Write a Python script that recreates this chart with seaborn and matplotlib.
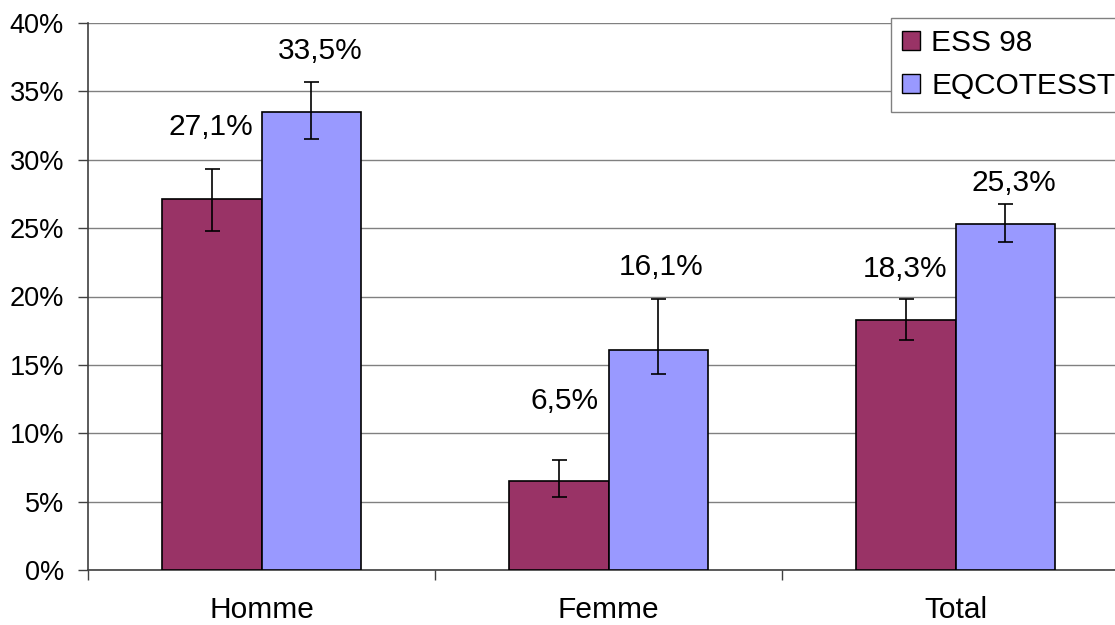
import matplotlib
matplotlib.use("Agg")
import matplotlib.pyplot as plt
import seaborn as sns
import pandas as pd
import numpy as np
from matplotlib.patches import Patch

categories = ["Homme", "Femme", "Total"]
series = ["ESS 98", "EQCOTESST"]
ess_values = [27.1, 6.5, 18.3]
eqc_values = [33.5, 16.1, 25.3]
ess_low = [24.8, 5.35, 16.8]
ess_high = [29.35, 8.05, 19.8]
eqc_low = [31.5, 14.3, 24.0]
eqc_high = [35.7, 19.8, 26.8]
yticks = [0, 5, 10, 15, 20, 25, 30, 35, 40]

# label layout: baseline height (in % units) and horizontal nudge (pixels)
ess_label_y = [31.8, 11.8, 21.4]
eqc_label_y = [37.4, 21.6, 27.7]
ess_label_dx = [-1, 6, 0]
eqc_label_dx = [9, 3, 8]

colors = ["#993366", "#9999FF"]
FS = 21.5
FS_Y = 19.5

df = pd.DataFrame({
    "cat": categories * 2,
    "serie": [series[0]] * 3 + [series[1]] * 3,
    "val": ess_values + eqc_values,
})

sns.set_style("white")
plt.rcParams["font.family"] = ["Liberation Sans", "DejaVu Sans"]
plt.rcParams["text.color"] = "black"
plt.rcParams["xtick.color"] = "black"
plt.rcParams["ytick.color"] = "black"

fig = plt.figure(figsize=(11.15, 6.25), dpi=100)
ax = fig.add_axes([88 / 1115, 1 - 570 / 625, (1129 - 88) / 1115, (570 - 23) / 625])

sns.barplot(data=df, x="cat", y="val", hue="serie", order=categories,
            hue_order=series, palette=colors, saturation=1, width=0.576, gap=0,
            errorbar=None, edgecolor="black", linewidth=1.2, ax=ax,
            legend=False, zorder=3)

vals = [ess_values, eqc_values]
lows = [ess_low, eqc_low]
highs = [ess_high, eqc_high]
label_ys = [ess_label_y, eqc_label_y]
label_dxs = [ess_label_dx, eqc_label_dx]
bar_containers = list(ax.containers)
for k, cont in enumerate(bar_containers):
    xs = [p.get_x() + p.get_width() / 2 for p in cont.patches]
    v = np.array(vals[k])
    lo = v - np.array(lows[k])
    hi = np.array(highs[k]) - v
    ax.errorbar(xs, v, yerr=[lo, hi], fmt="none", ecolor="black",
                elinewidth=1.2, capsize=5.4, capthick=1.2, zorder=4)
    for x, val, ly, dx in zip(xs, vals[k], label_ys[k], label_dxs[k]):
        ax.annotate(f"{val:.1f}%".replace(".", ","), xy=(x, ly),
                    xytext=(dx * 0.72, 0), textcoords="offset points",
                    ha="center", va="baseline", fontsize=FS, color="black")

ax.set_xlim(-0.5, 2.5)
ax.set_ylim(0, 40)
ax.set_yticks(yticks)
ax.set_yticklabels([f"{t}%" for t in yticks], fontsize=FS_Y)
ax.yaxis.grid(True, color="#808080", linewidth=1.0, zorder=0)
ax.set_axisbelow(True)
ax.set_xlabel("")
ax.set_ylabel("")

ax.set_xticks([0, 1, 2])
ax.set_xticklabels(categories, fontsize=FS)
ax.tick_params(axis="x", length=0, pad=18.5)
ax.set_xticks([-0.5, 0.5, 1.5, 2.5], minor=True)
ax.tick_params(axis="x", which="minor", length=7, width=1, color="#404040", direction="out", bottom=True)
ax.tick_params(axis="y", length=7.2, width=1, color="#404040", labelcolor="black",
               direction="out", left=True, pad=10)

for s in ["top", "right"]:
    ax.spines[s].set_visible(False)
for s in ["left", "bottom"]:
    ax.spines[s].set_color("#404040")
    ax.spines[s].set_linewidth(1.2)

handles = [Patch(facecolor=c, edgecolor="black", linewidth=1.0) for c in colors]
leg = fig.legend(handles, series, loc="upper left",
                 bbox_to_anchor=(891 / 1115, 1 - 18 / 625),
                 bbox_transform=fig.transFigure, fontsize=FS,
                 handlelength=0.6, handleheight=0.6, handletextpad=0.37,
                 borderpad=0.38, labelspacing=0.5, borderaxespad=0,
                 fancybox=False, framealpha=1, edgecolor="#808080")
leg.get_frame().set_linewidth(1.0)

fig.savefig("out.png", dpi=100)
